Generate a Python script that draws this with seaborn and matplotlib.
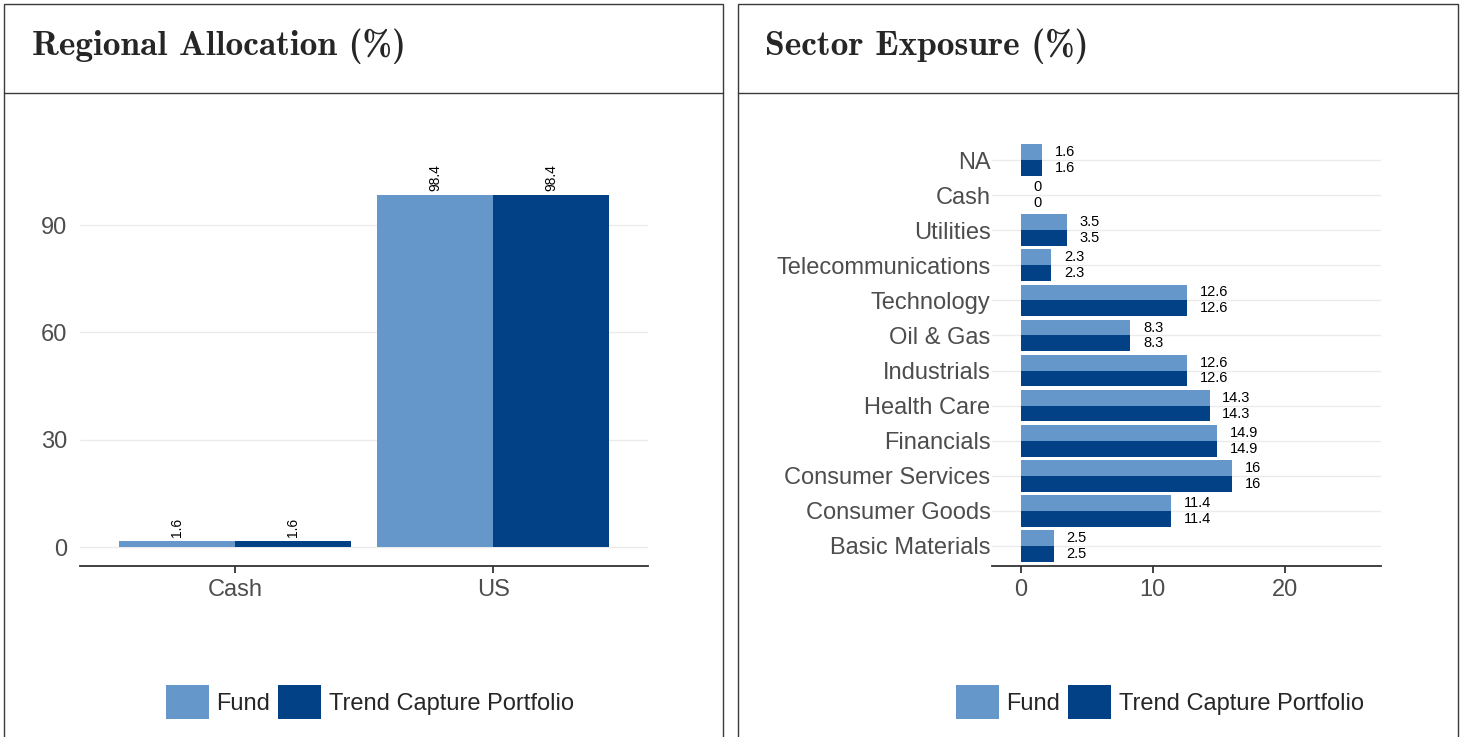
import matplotlib
matplotlib.use("Agg")
import matplotlib.pyplot as plt
from matplotlib.patches import Patch, Rectangle
from matplotlib.lines import Line2D
import seaborn as sns
import pandas as pd

# ---- data ----
regions = ["Cash", "US"]
region_fund = [1.6, 98.4]
region_tcp = [1.6, 98.4]

sectors = ["NA", "Cash", "Utilities", "Telecommunications", "Technology", "Oil & Gas",
           "Industrials", "Health Care", "Financials", "Consumer Services",
           "Consumer Goods", "Basic Materials"]
sector_fund = [1.6, 0, 3.5, 2.3, 12.6, 8.3, 12.6, 14.3, 14.9, 16, 11.4, 2.5]
sector_tcp = [1.6, 0, 3.5, 2.3, 12.6, 8.3, 12.6, 14.3, 14.9, 16, 11.4, 2.5]

series_names = ["Fund", "Trend Capture Portfolio"]
colors = ["#6597CB", "#034187"]
titles = ["Regional Allocation (%)", "Sector Exposure (%)"]

sns.set_theme(style="white")
plt.rcParams["font.family"] = ["Liberation Sans", "DejaVu Sans"]

reg_df = pd.DataFrame({
    "cat": regions * 2,
    "value": region_fund + region_tcp,
    "series": [series_names[0]] * len(regions) + [series_names[1]] * len(regions),
})
sec_df = pd.DataFrame({
    "cat": sectors * 2,
    "value": sector_fund + sector_tcp,
    "series": [series_names[0]] * len(sectors) + [series_names[1]] * len(sectors),
})

W, H = 1464, 737
fig = plt.figure(figsize=(W / 100, H / 100), dpi=100)
fig.patch.set_facecolor("white")

def fx(px):
    return px / W

def fy(py):
    return 1 - py / H

tick_col = "#4D4D4D"
grid_col = "#EBEBEB"
tick_fs = 17

# ---- panel frames ----
border = "#3A3A3A"
for (x0, x1) in [(4, 723), (738, 1458)]:
    fig.add_artist(Rectangle((fx(x0), fy(737 + 5)), fx(x1) - fx(x0), fy(4) - fy(742),
                             transform=fig.transFigure, fill=False, edgecolor=border, lw=1.0))
    fig.add_artist(Line2D([fx(x0), fx(x1)], [fy(93), fy(93)], transform=fig.transFigure,
                          color=border, lw=1.0))

fig.text(fx(32), fy(46), titles[0], fontsize=25.5, family="cmb10", va="center", ha="left")
fig.text(fx(765), fy(46), titles[1], fontsize=25.5, family="cmb10", va="center", ha="left")

# ---- left: regional allocation ----
ax1 = fig.add_axes([fx(80), fy(566), fx(648) - fx(80), fy(149) - fy(566)])
sns.barplot(data=reg_df, x="cat", y="value", hue="series", order=regions,
            hue_order=series_names, palette=colors, width=0.9, gap=0,
            saturation=1, legend=False, ax=ax1, errorbar=None)
ax1.set_xlim(-0.6, 1.6)
ax1.set_ylim(-5.3, 111.3)
ax1.set_yticks([0, 30, 60, 90])
ax1.set_xlabel("")
ax1.set_ylabel("")
ax1.yaxis.grid(True, color=grid_col, lw=1.0)
ax1.set_axisbelow(True)
for s in ["left", "top", "right"]:
    ax1.spines[s].set_visible(False)
ax1.spines["bottom"].set_color("#333333")
ax1.spines["bottom"].set_linewidth(1.3)
ax1.tick_params(axis="x", bottom=True, length=5, width=1.3, color="#333333",
                labelsize=tick_fs, labelcolor=tick_col, pad=4)
ax1.tick_params(axis="y", left=False, length=0, labelsize=tick_fs, labelcolor=tick_col, pad=9)
for c in ax1.containers:
    ax1.bar_label(c, fmt="%g", rotation=90, padding=3, fontsize=10, color="black")
for p in ax1.patches:
    p.set_edgecolor("none")

# ---- right: sector exposure ----
ax2 = fig.add_axes([fx(992), fy(566), fx(1381) - fx(992), fy(140) - fy(566)])
sns.barplot(data=sec_df, y="cat", x="value", hue="series", order=sectors,
            hue_order=series_names, palette=colors, width=0.9, gap=0,
            saturation=1, legend=False, ax=ax2, errorbar=None, orient="h")
ax2.set_xlim(-2.2, 27.3)
ax2.set_ylim(11.57, -0.57)
ax2.set_xticks([0, 10, 20])
ax2.set_xlabel("")
ax2.set_ylabel("")
ax2.yaxis.grid(True, color=grid_col, lw=1.0)
ax2.xaxis.grid(False)
ax2.set_axisbelow(True)
for s in ["left", "top", "right"]:
    ax2.spines[s].set_visible(False)
ax2.spines["bottom"].set_color("#333333")
ax2.spines["bottom"].set_linewidth(1.3)
ax2.tick_params(axis="x", bottom=True, length=5, width=1.3, color="#333333",
                labelsize=tick_fs, labelcolor=tick_col, pad=4)
ax2.tick_params(axis="y", left=False, length=0, labelsize=tick_fs, labelcolor=tick_col, pad=1)
for c in ax2.containers:
    ax2.bar_label(c, fmt="%g", padding=9, fontsize=10.5, color="black")
for p in ax2.patches:
    p.set_edgecolor("none")

# ---- legends ----
handles = [Patch(facecolor=colors[0], edgecolor="none", label=series_names[0]),
           Patch(facecolor=colors[1], edgecolor="none", label=series_names[1])]
for cx in [370, 1160]:
    fig.legend(handles=handles, loc="center", bbox_to_anchor=(fx(cx), fy(702)),
               ncol=2, frameon=False, fontsize=17, handlelength=1.82, handleheight=1.82,
               handletextpad=0.34, columnspacing=0.34, borderpad=0, borderaxespad=0)

fig.savefig("out.png", dpi=100, facecolor="white")
